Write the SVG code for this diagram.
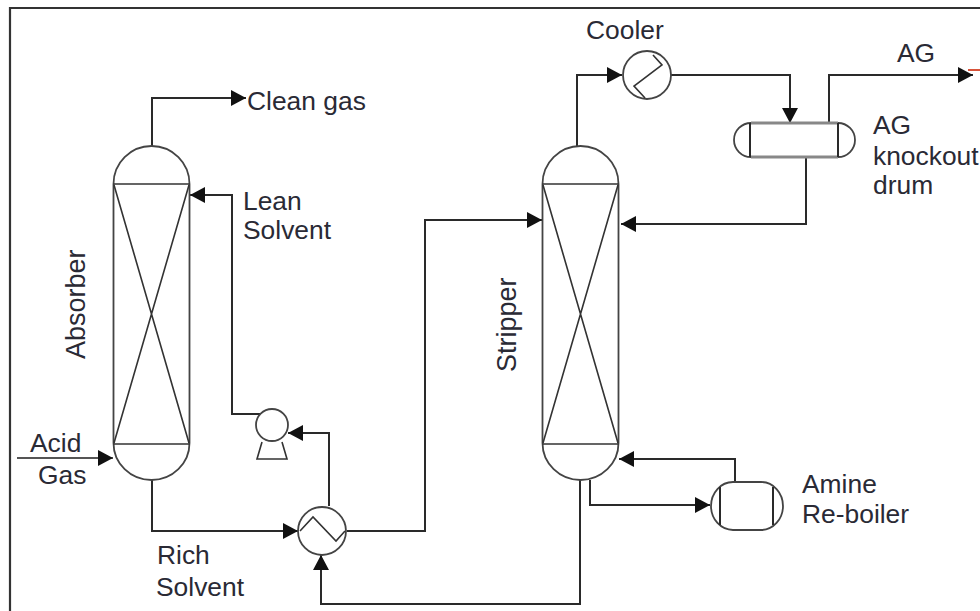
<svg xmlns="http://www.w3.org/2000/svg" width="980" height="611" viewBox="0 0 980 611">
<style>
.s{fill:none;stroke:#2a2a2a;stroke-width:2}
.t{fill:none;stroke:#333;stroke-width:1.6}
.e{fill:#fff;stroke:#444;stroke-width:1.8}
.l{font-family:"Liberation Sans",Arial,sans-serif;font-size:26.4px;fill:#2a2a35}
.v{font-size:27px}
</style>
<defs>
<marker id="a" markerUnits="userSpaceOnUse" markerWidth="16" markerHeight="16" refX="15" refY="8" orient="auto"><path d="M0 0L15 8L0 16Z" fill="#111"/></marker>
</defs>
<rect width="980" height="611" fill="#fff"/>
<path d="M10 611V8H980" fill="none" stroke="#333" stroke-width="2.2"/>
<g id="connectors">
<path class="s" d="M152 147V98H246" marker-end="url(#a)"/>
<path class="s" d="M260 414H232V195H190" marker-end="url(#a)"/>
<path class="s" d="M17 458H113" stroke-opacity=".8" marker-end="url(#a)"/>
<path class="s" d="M152 479V531H298" marker-end="url(#a)"/>
<path class="s" d="M329 506V433H288" marker-end="url(#a)"/>
<path class="s" d="M347 531H425V220H542" marker-end="url(#a)"/>
<path class="s" d="M580 479V604H321V555" marker-end="url(#a)"/>
<path class="s" d="M590 480V505H710" marker-end="url(#a)"/>
<path class="s" d="M735 482V459H619" marker-end="url(#a)"/>
<path class="s" d="M577 147V75H622" marker-end="url(#a)"/>
<path class="s" d="M671 75H790V123" marker-end="url(#a)"/>
<path class="s" d="M829 123V75H973" marker-end="url(#a)"/>
<path class="s" d="M806 157V224H621" marker-end="url(#a)"/>
<path d="M968 70H980" fill="none" stroke="#d8533a" stroke-width="2"/>
</g>
<g id="absorber">
<path class="e" d="M113.500 184A38 38 0 0 1 189.500 184V443A38 37 0 0 1 113.500 443Z"/>
<path class="t" d="M113.500 184H189.500M113.500 444H189.500"/>
<path class="t" d="M114 185L189 443M189 185L114 443"/>
<text class="l v" transform="translate(85 359) rotate(-90)">Absorber</text>
</g>
<g id="stripper">
<path class="e" d="M542.500 184A38 38 0 0 1 618.500 184V443A38 37 0 0 1 542.500 443Z"/>
<path class="t" d="M542.500 184H618.500M542.500 444H618.500"/>
<path class="t" d="M543 185L618 443M618 185L543 443"/>
<text class="l v" transform="translate(516 372) rotate(-90)">Stripper</text>
</g>
<g id="pump">
<path class="t" d="M262 442L257 459H287L282 442"/>
<circle class="e" cx="272" cy="425" r="16"/>
</g>
<g id="heat-exchanger">
<circle class="e" cx="322" cy="531" r="24"/>
<path class="t" d="M300 531L313 517L336 541L345 531"/>
</g>
<g id="cooler">
<circle class="e" cx="647" cy="75" r="24"/>
<path class="t" d="M653 55L662 65L634 86L645 98"/>
</g>
<g id="knockout-drum">
<path class="e" d="M751 123H838A17 17 0 0 1 838 157H751A17 17 0 0 1 751 123Z"/>
<path d="M751 123H838M751 157H838" fill="none" stroke="#888" stroke-width="3"/>
<path class="s" d="M750 123V157M838 123V157"/>
</g>
<g id="reboiler">
<rect class="e" x="711" y="482" width="72" height="48" rx="22" ry="24"/>
<path class="s" d="M720 487V525M773 487V525"/>
</g>
<g id="labels">
<text class="l" x="247" y="110">Clean gas</text>
<text class="l" x="243" y="210">Lean</text>
<text class="l" x="243" y="239">Solvent</text>
<text class="l" x="30" y="452">Acid</text>
<text class="l" x="38" y="484">Gas</text>
<text class="l" x="157" y="564">Rich</text>
<text class="l" x="156" y="596">Solvent</text>
<text class="l" x="586" y="39">Cooler</text>
<text class="l" x="897" y="62">AG</text>
<text class="l" x="873" y="134">AG</text>
<text class="l" x="873" y="165">knockout</text>
<text class="l" x="873" y="194">drum</text>
<text class="l" x="802" y="493">Amine</text>
<text class="l" x="802" y="523">Re-boiler</text>
</g>
</svg>
